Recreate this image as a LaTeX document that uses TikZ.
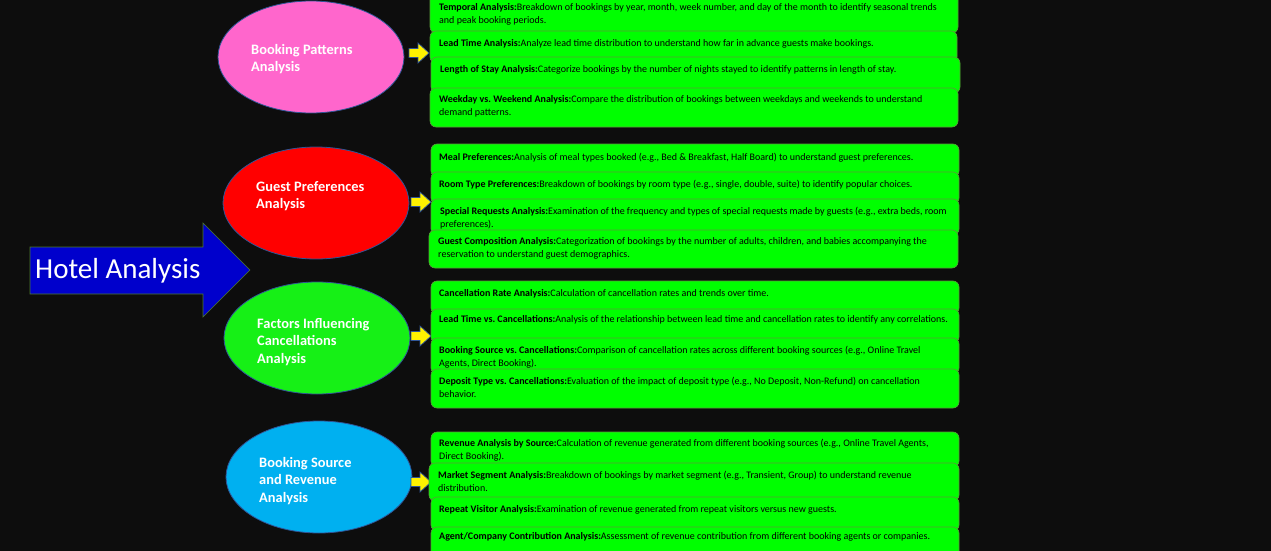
\documentclass[tikz,border=0pt]{standalone}
\usepackage{fontspec}
\setmainfont{Carlito}
\frenchspacing
\usetikzlibrary{shapes.geometric}
\definecolor{bgdark}{HTML}{0D0D0D}
\definecolor{hotelblue}{HTML}{0000CC}
\definecolor{hotelrim}{HTML}{4E7A2A}
\definecolor{ovalrim}{HTML}{2F5597}
\definecolor{pinkoval}{HTML}{FF66CC}
\definecolor{redoval}{HTML}{FF0000}
\definecolor{greenoval}{HTML}{16F016}
\definecolor{blueoval}{HTML}{00B0F0}
\definecolor{boxgreen}{HTML}{00FF00}
\definecolor{boxrim}{HTML}{5B9B3B}
\begin{document}
\begin{tikzpicture}[x=1pt, y=-1pt,
  oval/.style={ellipse, draw=ovalrim, line width=0.8pt, minimum width=186pt, minimum height=112pt, inner sep=0pt},
  ovaltext/.style={text=white, anchor=west, align=left, inner sep=0pt, font=\fontsize{14.4}{17.5}\selectfont\bfseries},
  infobox/.style={fill=boxgreen, draw=boxrim, line width=0.6pt, rounded corners=6pt},
  info/.style={anchor=north west, inner sep=0pt, yshift=-2pt, align=left, font=\fontsize{10}{12.8}\selectfont, execute at begin node=\strut},
  pointer/.style={fill=yellow, draw=ovalrim, line width=0.7pt}]
 \useasboundingbox (0,0) rectangle (1271,551);
 \fill[bgdark] (0,0) rectangle (1271,551);
 % main arrow
 \draw[fill=hotelblue, draw=hotelrim, line width=0.6pt] (30,247) -- (203,247) -- (203,223) -- (250,270) -- (203,317) -- (203,294) -- (30,294) -- cycle;
 \node[text=white, anchor=west, inner sep=0pt, font=\fontsize{29}{34}\selectfont] (hotel) at (35,271) {Hotel Analysis};
 % the four topics
 \node[oval, fill=pinkoval] (patterns) at (311,57) {};
 \node[ovaltext] (patternstext) at (251,59) {Booking Patterns\\Analysis};
 \node[oval, fill=redoval] (prefs) at (316,203) {};
 \node[ovaltext] (prefstext) at (256,196) {Guest Preferences\\Analysis};
 \node[oval, fill=greenoval] (cancel) at (317,338) {};
 \node[ovaltext] (canceltext) at (257,342) {Factors Influencing\\Cancellations\\Analysis};
 \node[oval, fill=blueoval] (revenue) at (319,477) {};
 \node[ovaltext] (revenuetext) at (259,481) {Booking Source\\and Revenue\\Analysis};
 % yellow pointers
 \draw[pointer] (409,48.5) -- (418,48.5) -- (418,43) -- (429,53) -- (418,63) -- (418,57.5) -- (409,57.5) -- cycle;
 \draw[pointer] (411,197.5) -- (420,197.5) -- (420,192) -- (431,202) -- (420,212) -- (420,206.5) -- (411,206.5) -- cycle;
 \draw[pointer] (411,331.5) -- (420,331.5) -- (420,326) -- (431,336) -- (420,346) -- (420,340.5) -- (411,340.5) -- cycle;
 \draw[pointer] (411,477.5) -- (420,477.5) -- (420,472) -- (431,482) -- (420,492) -- (420,486.5) -- (411,486.5) -- cycle;
 % booking patterns
 \draw[infobox] (430,-8) rectangle (958,33);
 \node[info] (tempo) at (439,1.75) {\textbf{Temporal Analysis:}Breakdown of bookings by year, month, week number, and day of the month to identify seasonal trends\\and peak booking periods.};
 \draw[infobox] (430,31) rectangle (957,63);
 \node[info] (leadtime) at (439,35.75) {\textbf{Lead Time Analysis:}Analyze lead time distribution to understand how far in advance guests make bookings.};
 \draw[infobox] (431,57) rectangle (960,93);
 \node[info] (stay) at (440,61.75) {\textbf{Length of Stay Analysis:}Categorize bookings by the number of nights stayed to identify patterns in length of stay.};
 \draw[infobox] (430,88) rectangle (958,127);
 \node[info] (weekday) at (439,93.75) {\textbf{Weekday vs. Weekend Analysis:}Compare the distribution of bookings between weekdays and weekends to understand\\demand patterns.};
 % guest preferences
 \draw[infobox] (431,144) rectangle (959,177);
 \node[info] (meal) at (439,149.75) {\textbf{Meal Preferences:}Analysis of meal types booked (e.g., Bed \& Breakfast, Half Board) to understand guest preferences.};
 \draw[infobox] (431,172) rectangle (959,204);
 \node[info] (room) at (439,176.75) {\textbf{Room Type Preferences:}Breakdown of bookings by room type (e.g., single, double, suite) to identify popular choices.};
 \draw[infobox] (431,199) rectangle (959,235);
 \node[info] (special) at (440,204.75) {\textbf{Special Requests Analysis:}Examination of the frequency and types of special requests made by guests (e.g., extra beds, room\\preferences).};
 \draw[infobox] (429,230) rectangle (958,268);
 \node[info] (guests) at (438,235.75) {\textbf{Guest Composition Analysis:}Categorization of bookings by the number of adults, children, and babies accompanying the\\reservation to understand guest demographics.};
 % cancellations
 \draw[infobox] (431,281) rectangle (959,314);
 \node[info] (cancelrate) at (439,285.75) {\textbf{Cancellation Rate Analysis:}Calculation of cancellation rates and trends over time.};
 \draw[infobox] (431,309) rectangle (959,343);
 \node[info] (leadcancel) at (439,311.75) {\textbf{Lead Time vs. Cancellations:}Analysis of the relationship between lead time and cancellation rates to identify any correlations.};
 \draw[infobox] (431,338) rectangle (959,374);
 \node[info] (sourcecancel) at (439,343.75) {\textbf{Booking Source vs. Cancellations:}Comparison of cancellation rates across different booking sources (e.g., Online Travel\\Agents, Direct Booking).};
 \draw[infobox] (431,369) rectangle (959,408);
 \node[info] (deposit) at (439,374.75) {\textbf{Deposit Type vs. Cancellations:}Evaluation of the impact of deposit type (e.g., No Deposit, Non-Refund) on cancellation\\behavior.};
 % revenue
 \draw[infobox] (431,432) rectangle (959,467);
 \node[info] (revsource) at (439,436.75) {\textbf{Revenue Analysis by Source:}Calculation of revenue generated from different booking sources (e.g., Online Travel Agents,\\Direct Booking).};
 \draw[infobox] (429,463) rectangle (959,501);
 \node[info] (segment) at (438,468.75) {\textbf{Market Segment Analysis:}Breakdown of bookings by market segment (e.g., Transient, Group) to understand revenue\\distribution.};
 \draw[infobox] (431,497) rectangle (959,531);
 \node[info] (repeat) at (439,501.75) {\textbf{Repeat Visitor Analysis:}Examination of revenue generated from repeat visitors versus new guests.};
 \draw[infobox] (431,527) rectangle (959,562);
 \node[info] (agent) at (439,528.75) {\textbf{Agent/Company Contribution Analysis:}Assessment of revenue contribution from different booking agents or companies.};
\end{tikzpicture}
\end{document}
